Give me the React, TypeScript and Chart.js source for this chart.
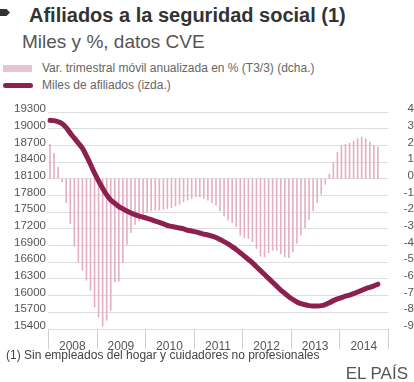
import React, { useEffect, useRef } from 'react';
import { Chart, registerables } from 'chart.js';

Chart.register(...registerables);

const years = ['2008', '2009', '2010', '2011', '2012', '2013', '2014'];
const monthLabels = years.flatMap((y) =>
  Array.from({ length: 12 }, (_, m) => `${y}-${String(m + 1).padStart(2, '0')}`)
);

// Miles de afiliados (izda.)
const afiliados = [
  19150, 19145, 19125, 19090, 19020, 18920, 18830, 18740, 18650, 18510, 18360, 18200,
  18060, 17930, 17810, 17720, 17660, 17600, 17560, 17520, 17485, 17455, 17430, 17410,
  17390, 17365, 17340, 17315, 17290, 17260, 17245, 17230, 17215, 17200, 17175, 17160,
  17145, 17125, 17105, 17090, 17070, 17045, 17010, 16970, 16930, 16880, 16830, 16770,
  16710, 16650, 16590, 16520, 16450, 16380, 16310, 16240, 16170, 16100, 16040, 15980,
  15930, 15885, 15855, 15835, 15820, 15815, 15815, 15820, 15840, 15870, 15910, 15940,
  15965, 15990, 16010, 16035, 16065, 16095, 16125, 16150, 16175, 16205,
];

// Var. trimestral móvil anualizada en % (dcha.)
const variacion = [
  2.1, 1.55, 0.7, -0.2, -1.45, -2.7, -4.05, -5.0, -5.5, -6.1, -6.7, -7.7,
  -8.3, -8.85, -8.5, -7.9, -6.2, -6.15, -5.05, -3.95, -3.25, -2.75, -2.55, -2.3,
  -2.05, -1.95, -1.9, -1.9, -1.85, -1.8, -1.75, -1.65, -1.55, -1.4, -1.3, -1.2,
  -1.1, -1.1, -1.2, -1.3, -1.45, -1.6, -1.95, -2.25, -2.5, -2.65, -2.9, -3.4,
  -3.55, -3.6, -3.8, -4.2, -4.65, -4.7, -4.45, -4.3, -4.3, -4.5, -4.7, -4.75,
  -4.4, -3.9, -3.4, -2.95, -2.45, -1.95, -1.45, -0.95, -0.35, 0.3, 1.0, 1.6,
  2.0, 2.08, 2.15, 2.28, 2.42, 2.52, 2.42, 2.22, 2.02, 1.92,
];

const leftMin = 15400;
const leftMax = 19300;
const leftStep = 300;
const rightMin = -9;
const rightMax = 4;
const rightStep = 1;

const FONT = "'Liberation Sans', Arial, sans-serif";
const LINE_COLOR = '#8c2150';
const BAR_COLOR = '#e4afc3';

const yearSeparators = {
  id: 'yearSeparators',
  afterDraw(chart: any) {
    const { ctx, chartArea, scales } = chart;
    const x = scales.x;
    ctx.save();
    ctx.strokeStyle = '#d0d0d0';
    ctx.lineWidth = 1;
    for (let k = 0; k <= years.length; k++) {
      const px = Math.round(x.getPixelForValue(k * 12 - 0.5)) + 0.5;
      ctx.beginPath();
      ctx.moveTo(px, chartArea.bottom);
      ctx.lineTo(px, chartArea.bottom + 20);
      ctx.stroke();
    }
    ctx.restore();
  },
};

export default function App() {
  const canvasRef = useRef<HTMLCanvasElement | null>(null);

  useEffect(() => {
    if (!canvasRef.current) return;
    const chart = new Chart(canvasRef.current, {
      type: 'bar',
      data: {
        labels: monthLabels,
        datasets: [
          {
            type: 'line',
            label: 'Miles de afiliados (izda.)',
            data: afiliados,
            yAxisID: 'y',
            borderColor: LINE_COLOR,
            borderWidth: 5,
            borderCapStyle: 'round',
            borderJoinStyle: 'round',
            pointRadius: 0,
            cubicInterpolationMode: 'monotone',
            order: 0,
          } as any,
          {
            type: 'bar',
            label: 'Var. trimestral móvil anualizada en % (T3/3) (dcha.)',
            data: variacion,
            yAxisID: 'y2',
            backgroundColor: BAR_COLOR,
            categoryPercentage: 1,
            barPercentage: 0.4,
            order: 1,
          } as any,
        ],
      },
      options: {
        responsive: false,
        animation: false,
        devicePixelRatio: 1,
        layout: { padding: { top: 12, left: 0, right: 0, bottom: 0 } },
        plugins: {
          legend: { display: false },
          tooltip: { enabled: false },
        },
        scales: {
          x: {
            type: 'category',
            grid: { display: false },
            border: { display: false },
            ticks: {
              autoSkip: false,
              maxRotation: 0,
              minRotation: 0,
              padding: 2,
              labelOffset: -2,
              color: '#555',
              font: { family: FONT, size: 12 },
              callback: (_v: any, idx: number) => (idx % 12 === 6 ? years[Math.floor(idx / 12)] : ''),
            },
            afterFit: (scale: any) => {
              scale.height = 23;
            },
          },
          y: {
            type: 'linear',
            position: 'left',
            min: leftMin,
            max: leftMax,
            grid: { color: '#dedede', lineWidth: 1, drawTicks: false },
            border: { display: false },
            ticks: {
              stepSize: leftStep,
              autoSkip: false,
              padding: 2,
              labelOffset: -3,
              color: '#555',
              font: { family: FONT, size: 11.5 },
              callback: (v: any) => String(v),
            },
            afterFit: (scale: any) => {
              scale.width = 48;
            },
          },
          y2: {
            type: 'linear',
            position: 'right',
            min: rightMin,
            max: rightMax,
            grid: { display: false, drawTicks: false },
            border: { display: false },
            ticks: {
              stepSize: rightStep,
              autoSkip: false,
              padding: -3,
              crossAlign: 'far',
              labelOffset: -3,
              color: '#555',
              font: { family: FONT, size: 11.5 },
              callback: (v: any) => String(v),
            },
            afterFit: (scale: any) => {
              scale.width = 26;
            },
          },
        },
      } as any,
      plugins: [yearSeparators],
    });
    return () => chart.destroy();
  }, []);

  return (
    <div
      style={{
        position: 'absolute',
        left: 0,
        top: 0,
        width: 414,
        height: 382,
        background: '#fff',
        overflow: 'hidden',
        fontFamily: FONT,
      }}
    >
      <div
        style={{
          position: 'absolute',
          left: 0,
          top: 9,
          width: 10,
          height: 7,
          background: '#333',
          clipPath: 'polygon(0 0, 65% 0, 100% 50%, 65% 100%, 0 100%)',
        }}
      />
      <div
        style={{
          position: 'absolute',
          left: 29,
          top: 5,
          fontSize: 20,
          lineHeight: '20px',
          fontWeight: 'bold',
          color: '#333',
          whiteSpace: 'nowrap',
        }}
      >
        Afiliados a la seguridad social (1)
      </div>
      <div
        style={{
          position: 'absolute',
          left: 22,
          top: 32,
          fontSize: 19,
          lineHeight: '19px',
          color: '#555',
          whiteSpace: 'nowrap',
        }}
      >
        Miles y %, datos CVE
      </div>
      <div
        style={{ position: 'absolute', left: 3, top: 65, width: 29, height: 7, background: '#e8c3d1' }}
      />
      <div
        style={{
          position: 'absolute',
          left: 42,
          top: 62,
          fontSize: 12,
          lineHeight: '12px',
          color: '#666',
          whiteSpace: 'nowrap',
        }}
      >
        Var. trimestral móvil anualizada en % (T3/3) (dcha.)
      </div>
      <div
        style={{
          position: 'absolute',
          left: 3,
          top: 83,
          width: 30,
          height: 4.5,
          borderRadius: 2.5,
          background: LINE_COLOR,
        }}
      />
      <div
        style={{
          position: 'absolute',
          left: 42,
          top: 79,
          fontSize: 12,
          lineHeight: '12px',
          color: '#666',
          whiteSpace: 'nowrap',
        }}
      >
        Miles de afiliados (izda.)
      </div>
      <div style={{ position: 'absolute', left: 0, top: 100, width: 414, height: 252 }}>
        <canvas ref={canvasRef} width={414} height={252} style={{ display: 'block' }} />
      </div>
      <div
        style={{
          position: 'absolute',
          left: 6,
          top: 349,
          fontSize: 12,
          lineHeight: '12px',
          color: '#444',
          whiteSpace: 'nowrap',
        }}
      >
        (1) Sin empleados del hogar y cuidadores no profesionales
      </div>
      <div
        style={{
          position: 'absolute',
          right: 6,
          top: 365,
          fontSize: 17,
          lineHeight: '17px',
          color: '#555',
          whiteSpace: 'nowrap',
        }}
      >
        EL PAÍS
      </div>
    </div>
  );
}
